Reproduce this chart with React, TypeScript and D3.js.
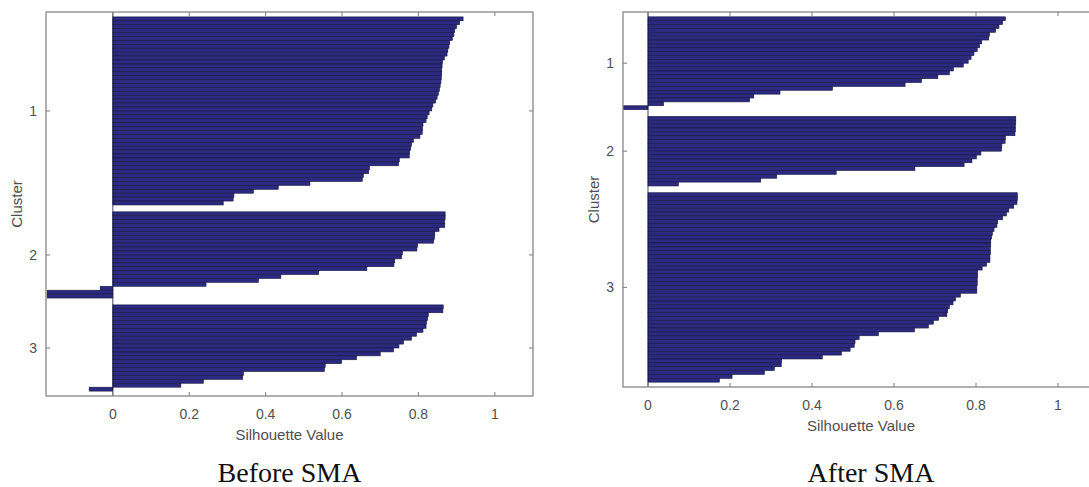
import * as d3 from 'd3';

// silhouette values per cluster, sorted descending
const beforeCluster1 = [0.917, 0.908, 0.9, 0.895, 0.893, 0.889, 0.882, 0.88, 0.877, 0.875, 0.868, 0.863, 0.862, 0.861, 0.861, 0.86, 0.859, 0.857, 0.855, 0.852, 0.849, 0.845, 0.838, 0.835, 0.828, 0.823, 0.82, 0.812, 0.811, 0.81, 0.804, 0.787, 0.782, 0.78, 0.777, 0.776, 0.75, 0.748, 0.672, 0.67, 0.656, 0.653, 0.516, 0.433, 0.368, 0.317, 0.315, 0.289];
const beforeCluster2 = [0.87, 0.87, 0.869, 0.869, 0.854, 0.843, 0.842, 0.84, 0.798, 0.796, 0.758, 0.756, 0.738, 0.736, 0.665, 0.539, 0.44, 0.381, 0.244, -0.033, -0.172, -0.172];
const beforeCluster3 = [0.865, 0.864, 0.826, 0.824, 0.821, 0.82, 0.812, 0.795, 0.782, 0.761, 0.749, 0.735, 0.7, 0.638, 0.599, 0.556, 0.554, 0.342, 0.34, 0.237, 0.178, -0.062];

const afterCluster1 = [0.872, 0.865, 0.856, 0.848, 0.833, 0.831, 0.814, 0.809, 0.803, 0.795, 0.788, 0.781, 0.769, 0.745, 0.735, 0.707, 0.667, 0.627, 0.45, 0.322, 0.258, 0.248, 0.038, -0.06];
const afterCluster2 = [0.897, 0.897, 0.896, 0.896, 0.895, 0.872, 0.871, 0.863, 0.862, 0.812, 0.801, 0.79, 0.771, 0.651, 0.459, 0.314, 0.275, 0.074];
const afterCluster3 = [0.901, 0.901, 0.9, 0.892, 0.88, 0.874, 0.865, 0.853, 0.851, 0.844, 0.84, 0.838, 0.836, 0.836, 0.835, 0.835, 0.834, 0.834, 0.826, 0.815, 0.804, 0.804, 0.803, 0.803, 0.802, 0.802, 0.762, 0.75, 0.744, 0.735, 0.731, 0.729, 0.709, 0.696, 0.684, 0.65, 0.562, 0.515, 0.505, 0.503, 0.493, 0.472, 0.425, 0.326, 0.325, 0.308, 0.284, 0.205, 0.174];

const clusterLabels = ['1', '2', '3'];
const xTicks = [0, 0.2, 0.4, 0.6, 0.8, 1];
const xTickLabels = ['0', '0.2', '0.4', '0.6', '0.8', '1'];

const AXIS = '#7c7c7c';
const TEXT = '#4f4f4f';
const BAR = '#2c2a80';
const EDGE = '#161640';
const SANS = '"Liberation Sans", Arial, sans-serif';

const PAD = 1.25;
const GAP = 1.75;

function Panel({ clusters, xMin, left, right, top, bottom, title }) {
  const x = d3.scaleLinear().domain([xMin, 1.1]).range([left, right]);

  // lay the rows out: padding, cluster rows, gaps between clusters
  let pos = PAD;
  const rows = [];
  const centers = [];
  clusters.forEach((vals, ci) => {
    if (ci > 0) pos += GAP;
    centers.push(pos + vals.length / 2);
    vals.forEach((v) => {
      rows.push({ v, i: pos });
      pos += 1;
    });
  });
  const total = pos + PAD;
  const y = d3.scaleLinear().domain([0, total]).range([top, bottom]);
  const visRight = Math.min(right, 1089);
  const cx = (left + right) / 2;
  const cy = (top + bottom) / 2;

  return (
    <g>
      <defs>
        <clipPath id={'clip' + left}>
          <rect x={left} y={top} width={right - left} height={bottom - top} />
        </clipPath>
      </defs>
      <g clipPath={`url(#clip${left})`}>
        {rows.map((r, k) => (
          <rect
            key={k}
            x={x(Math.min(0, r.v))}
            y={y(r.i)}
            width={Math.abs(x(r.v) - x(0))}
            height={y(r.i + 1) - y(r.i)}
            fill={BAR}
            stroke={EDGE}
            strokeWidth={0.6}
          />
        ))}
      </g>
      <line x1={x(0)} x2={x(0)} y1={top} y2={bottom} stroke={EDGE} strokeWidth={0.8} />
      <rect x={left} y={top} width={right - left} height={bottom - top} fill="none" stroke={AXIS} strokeWidth={1.2} />
      {xTicks.map((t, k) => (
        <g key={k}>
          <line x1={x(t)} x2={x(t)} y1={bottom} y2={bottom - 4} stroke={AXIS} />
          <line x1={x(t)} x2={x(t)} y1={top} y2={top + 4} stroke={AXIS} />
          <text x={x(t)} y={bottom + 23} textAnchor="middle" fontFamily={SANS} fontSize={14} fill={TEXT}>
            {xTickLabels[k]}
          </text>
        </g>
      ))}
      {centers.map((c, k) => (
        <g key={k}>
          <line x1={left} x2={left + 4} y1={y(c)} y2={y(c)} stroke={AXIS} />
          <line x1={right} x2={right - 4} y1={y(c)} y2={y(c)} stroke={AXIS} />
          <text x={left - 9} y={y(c) + 5} textAnchor="end" fontFamily={SANS} fontSize={14} fill={TEXT}>
            {clusterLabels[k]}
          </text>
        </g>
      ))}
      <text x={cx} y={bottom + 44} textAnchor="middle" fontFamily={SANS} fontSize={15} fill={TEXT}>
        Silhouette Value
      </text>
      <text
        transform={`translate(${left - 24},${cy}) rotate(-90)`}
        textAnchor="middle"
        fontFamily={SANS}
        fontSize={15}
        fill={TEXT}
      >
        Cluster
      </text>
      <text
        x={title === 'After SMA' ? 871 : cx}
        y={482}
        textAnchor="middle"
        fontFamily={'"Liberation Serif", "Times New Roman", serif'}
        fontSize={28}
        fill="#111"
      >
        {title}
      </text>
    </g>
  );
}

export default function App() {
  return (
    <svg
      width={1089}
      height={487}
      style={{ position: 'absolute', left: 0, top: 0, display: 'block', background: '#fff' }}
    >
      <Panel
        clusters={[beforeCluster1, beforeCluster2, beforeCluster3]}
        xMin={-0.175}
        left={46}
        right={533}
        top={12}
        bottom={396}
        title="Before SMA"
      />
      <Panel
        clusters={[afterCluster1, afterCluster2, afterCluster3]}
        xMin={-0.061}
        left={623}
        right={1099}
        top={12}
        bottom={387}
        title="After SMA"
      />
    </svg>
  );
}
